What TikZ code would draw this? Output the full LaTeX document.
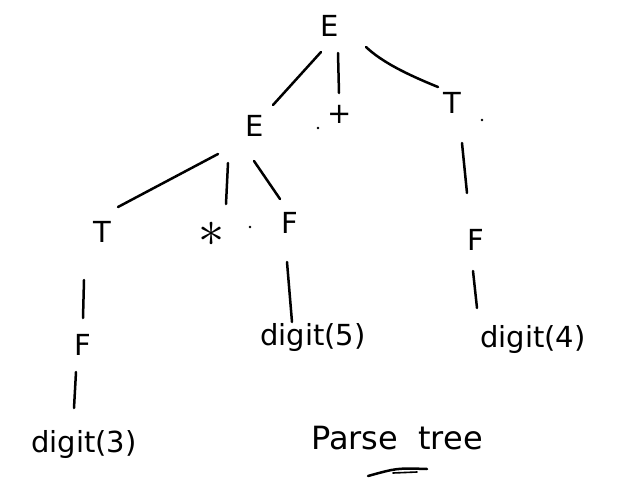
\documentclass[tikz,border=0pt]{standalone}
\usepackage{fontspec}
\setmainfont{DejaVu Sans}
\usetikzlibrary{calc}
\begin{document}
\begin{tikzpicture}[x=1pt,y=-1pt,
  sym/.style={font=\fontsize{29}{32}\selectfont, inner sep=0pt},
  branch/.style={line width=2.5pt, line cap=round},
  speck/.style={fill=black, circle, inner sep=0pt, minimum size=2.8pt}]
  \useasboundingbox (0,0) rectangle (619,485);
  \fill[white] (0,0) rectangle (619,485);

  % symbols of the tree
  \node[sym] (E0) at (330,26) {E};
  \node[sym] (E1) at (255,126) {E};
  \node[sym] (plus) at (340,114) {+};
  \node[sym] (T1) at (452,103) {T};
  \node[sym] (T2) at (102,232) {T};
  \node[sym] (star) at (212,234) {\scalebox{2.1}{$\ast$}};
  \node[sym] (F1) at (290,223) {F};
  \node[sym] (F2) at (476,240) {F};
  \node[sym] (F3) at (83,345) {F};
  \node[sym] (d5) at (313,337) {digit(5)};
  \node[sym] (d4) at (533,339) {digit(4)};
  \node[sym] (d3) at (84,444) {digit(3)};

  % stray dots beside some symbols
  \node[speck] (s1) at (318,128) {};
  \node[speck] (s2) at (482,120) {};
  \node[speck] (s3) at (250,227) {};

  % branches
  \draw[branch] ($(E0)+(-9,26)$) -- ($(E1)+(18,-21)$);
  \draw[branch] ($(E0)+(8,27)$) -- ($(plus)+(-1,-21)$);
  \draw[branch] ($(E0)+(36,21)$) .. controls ($(E0)+(52,36)$) and ($(E0)+(76,48)$) .. ($(T1)+(-14,-16)$);
  \draw[branch] ($(E1)+(-37,28)$) -- ($(T2)+(16,-25)$);
  \draw[branch] ($(E1)+(-27,37)$) -- ($(star)+(14,-30)$);
  \draw[branch] ($(E1)+(-1,35)$) -- ($(F1)+(-10,-24)$);
  \draw[branch] ($(T1)+(10,40)$) -- ($(F2)+(-9,-47)$);
  \draw[branch] ($(F2)+(-3,31)$) -- ($(d4)+(-56,-31)$);
  \draw[branch] ($(T2)+(-18,48)$) -- ($(F3)+(0,-27)$);
  \draw[branch] ($(F3)+(-7,27)$) -- ($(d3)+(-10,-36)$);
  \draw[branch] ($(F1)+(-3,39)$) -- ($(d5)+(-21,-15)$);

  % caption with its underline
  \node[font=\fontsize{32}{36}\selectfont, inner sep=0pt] (cap) at (397,438) {Parse\ \ tree};
  \draw[branch] ($(cap)+(-29,38)$) .. controls ($(cap)+(0,30)$) .. ($(cap)+(30,31)$);
  \draw[line width=1.6pt, line cap=round] ($(cap)+(-4,35)$) -- ($(cap)+(20,34)$);
\end{tikzpicture}
\end{document}
